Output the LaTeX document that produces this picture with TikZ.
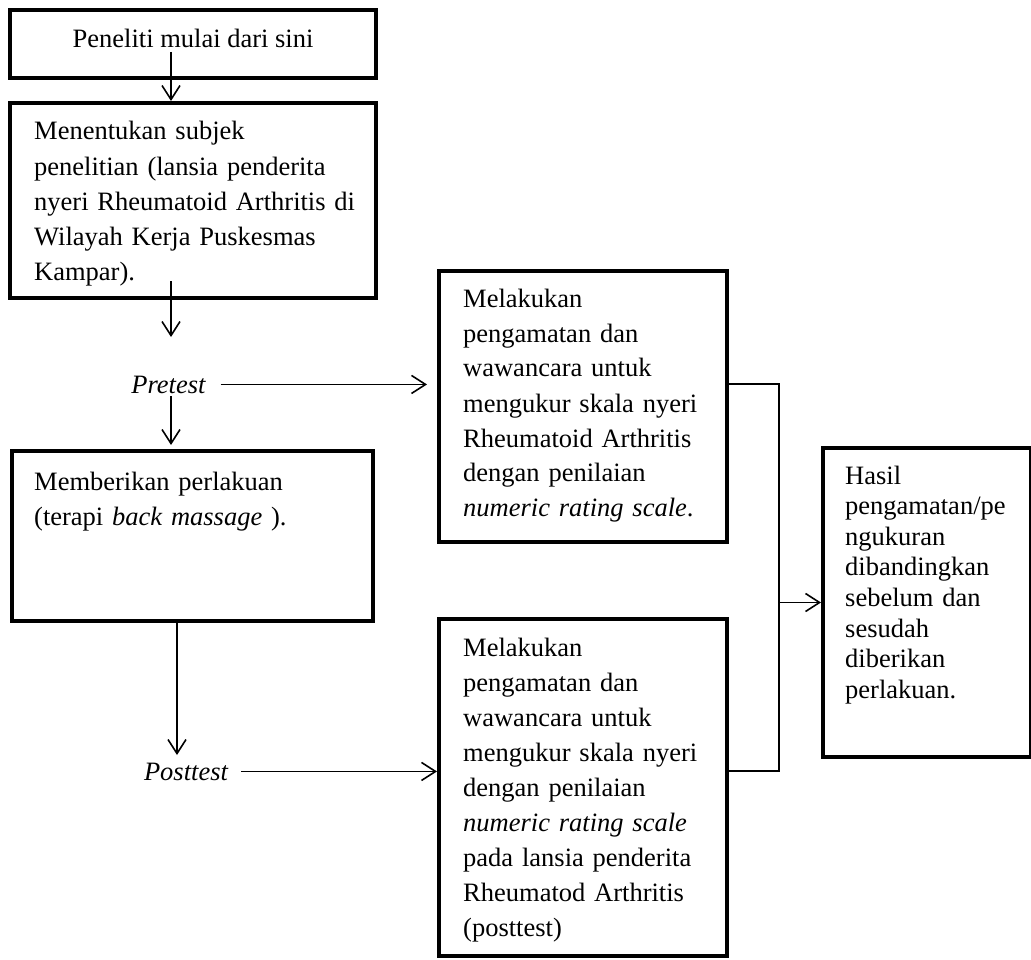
\documentclass[tikz,border=0pt]{standalone}
\usepackage{fontspec}
\setmainfont{Liberation Serif}
\usetikzlibrary{arrows.meta}
\begin{document}
\begin{tikzpicture}[x=1pt,y=-1pt,
  boxnode/.style={draw, line width=4pt, rectangle, inner sep=0pt, outer sep=0pt, anchor=north west},
  txt/.style={anchor=base west, inner sep=0pt, align=left, text width=#1},
  conn/.style={line width=1.6pt},
  arr/.style={conn, -{Straight Barb[length=14pt,width=18pt]}},
  lbl/.style={anchor=base, inner sep=0pt, font=\fontsize{26.5}{35}\selectfont\itshape}
]
\useasboundingbox (0,0) rectangle (1031,960);

% boxes
\node[boxnode, minimum width=366pt, minimum height=68pt]  (b1) at (10,10) {};
\node[boxnode, minimum width=366pt, minimum height=195pt] (b2) at (10,103) {};
\node[boxnode, minimum width=361pt, minimum height=170pt] (b3) at (12,451) {};
\node[boxnode, minimum width=288pt, minimum height=271pt] (b4) at (439,271) {};
\node[boxnode, minimum width=208pt, minimum height=309pt] (b5) at (823,448) {};
\node[boxnode, minimum width=288pt, minimum height=337pt] (b6) at (439,619) {};

% texts
\node[anchor=base, inner sep=0pt, font=\fontsize{26.5}{35}\selectfont] (t1) at (193,48) {Peneliti mulai dari sini};
\node[txt=330pt, font=\fontsize{26.5}{35.2}\selectfont] (t2) at (34,140)
  {Menentukan subjek\\penelitian (lansia penderita\\nyeri Rheumatoid Arthritis di\\Wilayah Kerja Puskesmas\\Kampar).};
\node[txt=330pt, font=\fontsize{26.5}{35}\selectfont] (t3) at (34,490)
  {Memberikan perlakuan\\(terapi \textit{back massage} ).};
\node[txt=260pt, font=\fontsize{26.5}{35}\selectfont] (t4) at (463,307)
  {Melakukan\\pengamatan dan\\wawancara untuk\\mengukur skala nyeri\\Rheumatoid Arthritis\\dengan penilaian\\\textit{numeric rating scale}.};
\node[txt=185pt, font=\fontsize{26.5}{30.6}\selectfont] (t5) at (845,484)
  {Hasil\\pengamatan/pe\\ngukuran\\dibandingkan\\sebelum dan\\sesudah\\diberikan\\perlakuan.};
\node[txt=260pt, font=\fontsize{26.5}{35}\selectfont] (t6) at (463,656)
  {Melakukan\\pengamatan dan\\wawancara untuk\\mengukur skala nyeri\\dengan penilaian\\\textit{numeric rating scale}\\pada lansia penderita\\Rheumatod Arthritis\\(posttest)};

\node[lbl] (pre) at (168.5,393) {Pretest};
\node[lbl] (post) at (186,780) {Posttest};

% coordinates
\coordinate (c1) at (171,52);
\coordinate (c2) at (171,281);
\coordinate (c3) at (171,337);
\coordinate (c4) at (171,396);
\coordinate (c5) at (177,755);
\coordinate (j1) at (779,384);
\coordinate (j2) at (779,771);

% connectors
\draw[arr, shorten >=2pt] (c1) -- (c1 |- b2.north);
\draw[arr] (c2) -- (c3);
\draw[arr] ([xshift=15pt]pre.east) -- ([xshift=-12pt]b4.west |- pre.east);
\draw[arr, shorten >=6pt] (c4) -- (c4 |- b3.north);
\draw[arr] (c5 |- b3.south) -- (c5);
\draw[arr, shorten >=2pt] ([xshift=13pt]post.east) -- (b6.west |- post.east);
\draw[conn] (b4.east |- j1) -- (j1) -- (j2) -- (b6.east |- j2);
\draw[arr, shorten >=2pt] (j1 |- b5.west) -- (b5.west);
\end{tikzpicture}
\end{document}
